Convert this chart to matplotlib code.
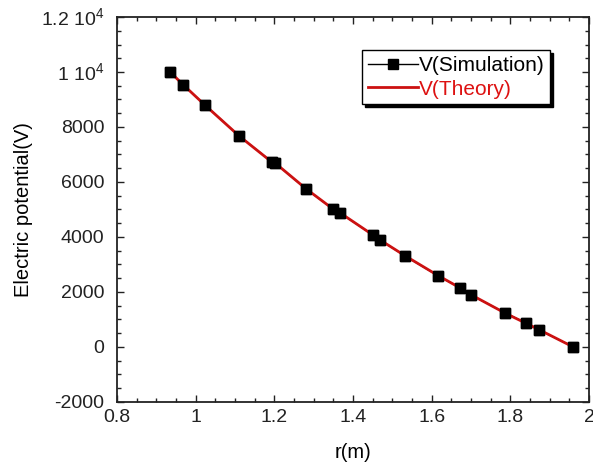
import matplotlib
matplotlib.use("Agg")
import matplotlib.pyplot as plt
from matplotlib.ticker import MultipleLocator, FuncFormatter

plt.rcParams['font.family'] = ['Liberation Sans', 'DejaVu Sans']
plt.rcParams['mathtext.fontset'] = 'custom'
plt.rcParams['mathtext.rm'] = 'Liberation Sans'

# Data
r_sim = [0.935, 0.968, 1.024, 1.110, 1.194, 1.202, 1.280, 1.349, 1.367,
         1.451, 1.469, 1.532, 1.616, 1.672, 1.700, 1.787, 1.840, 1.873, 1.960]
v_sim = [10000, 9530, 8800, 7680, 6730, 6690, 5750, 5020, 4870,
         4070, 3890, 3310, 2590, 2150, 1890, 1240, 870, 620, 0]
r_theory = r_sim
v_theory = [10000, 9540, 8790, 7680, 6720, 6690, 5760, 5020, 4880,
            4070, 3890, 3320, 2600, 2150, 1900, 1230, 860, 630, 0]

x_ticks = [0.8, 1.0, 1.2, 1.4, 1.6, 1.8, 2.0]
y_ticks = [-2000, 0, 2000, 4000, 6000, 8000, 10000, 12000]
y_tick_labels = ['-2000', '0', '2000', '4000', '6000', '8000',
                 r'1 10$^{4}$', r'1.2 10$^{4}$']

fig = plt.figure(figsize=(5.93, 4.62), dpi=100)
ax = fig.add_axes([0.1973, 0.1299, 0.7960, 0.8333])

# simulation line underneath, theory on top, then the markers
sim_line, = ax.plot(r_sim, v_sim, color='black', lw=1, marker='s', ms=6.8,
                    mfc='black', mec='black', zorder=2, label='V(Simulation)')
theory_line, = ax.plot(r_theory, v_theory, color='#cc1111', lw=2, zorder=3,
                       label='V(Theory)')
ax.plot(r_sim, v_sim, ls='none', marker='s', ms=6.8, color='black', zorder=4)

ax.set_xlim(0.8, 2.0)
ax.set_ylim(-2000, 12000)
ax.set_xticks(x_ticks)
ax.xaxis.set_major_formatter(FuncFormatter(lambda v, p: '%g' % v))
ax.xaxis.set_minor_locator(MultipleLocator(0.05))
ax.set_yticks(y_ticks)
ax.set_yticklabels(y_tick_labels)
ax.yaxis.set_minor_locator(MultipleLocator(500))

ax.tick_params(which='both', direction='in', top=True, right=True,
               labelsize=14, width=1, colors='#222222')
ax.tick_params(which='major', length=5)
ax.tick_params(which='minor', length=3)
ax.tick_params(axis='y', pad=9)
ax.tick_params(axis='x', pad=5)
for s in ax.spines.values():
    s.set_linewidth(1.3)
    s.set_color('#222222')

ax.set_xlabel('r(m)', fontsize=14.5, labelpad=12)
ax.set_ylabel('Electric potential(V)', fontsize=14.5, labelpad=6)

leg = ax.legend(handles=[sim_line, theory_line], loc='upper left',
                bbox_to_anchor=(0.519, 0.914), fontsize=15, frameon=True,
                fancybox=False, handlelength=2.4, handletextpad=0.05,
                borderpad=0.28, labelspacing=0.22, borderaxespad=0,
                shadow={'color': 'black', 'alpha': 1})
leg.get_frame().set_edgecolor('black')
leg.get_frame().set_linewidth(1.0)
leg.get_texts()[1].set_color('#dd1111')

fig.savefig('out.png', dpi=100)
